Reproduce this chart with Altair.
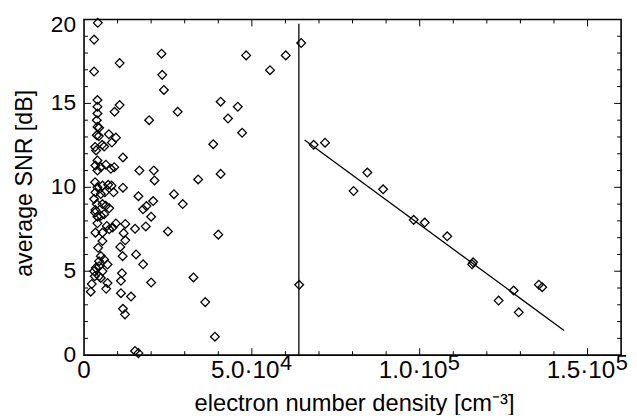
import altair as alt
import pandas as pd

# ---- data (electron number density in units of 1e4 cm^-3, average SNR in dB) ----
dens_e4 = [
    0.41, 0.30, 0.30, 0.40, 0.40, 0.40, 0.38, 0.40, 0.45, 0.38, 0.44, 0.33, 0.36, 0.40,
    0.34, 0.40, 0.33, 0.40, 0.34, 0.30, 0.38, 0.34, 0.40, 0.33, 0.40, 0.34, 0.32, 0.23,
    0.20, 0.35, 0.30,
    0.54, 0.60, 0.83, 0.74, 0.95, 0.91, 1.06, 1.06, 1.16, 0.50, 0.65, 0.80, 0.90, 0.55,
    0.72, 0.82, 0.88, 0.50, 0.62, 0.55, 0.65, 0.75, 0.50, 0.60, 0.68, 0.75, 0.85, 0.95,
    0.55, 0.55, 0.42, 0.50, 0.45, 0.60, 0.70, 0.45, 0.55, 0.45, 0.70, 0.66, 0.50,
    1.16, 1.62, 2.68, 2.06, 1.86, 1.76, 2.00, 1.23, 1.52, 1.84, 2.50, 1.18, 1.23, 1.08,
    1.15, 1.55, 1.76, 1.13, 1.10, 2.00, 1.10, 1.40, 1.16, 1.22, 1.52, 1.62, 1.65, 2.08,
    2.10, 2.31, 2.33, 2.38, 2.79, 1.94, 2.94,
    4.83, 5.54, 6.01, 6.47, 4.07, 4.58, 4.29, 4.71, 3.85, 3.40, 4.07, 4.00, 3.26, 3.61,
    3.90, 6.41,
    6.84, 7.18, 8.03, 8.44, 8.91, 9.82, 10.15, 10.82, 11.56, 11.59, 12.35, 12.8, 12.95,
    13.55, 13.65,
]
snr_db = [
    19.8, 18.8, 16.9, 15.2, 14.8, 14.4, 14.0, 13.6, 13.55, 13.1, 13.05, 12.4, 12.2, 11.6,
    11.3, 11.0, 10.3, 10.0, 9.7, 9.3, 9.0, 8.65, 8.25, 8.5, 7.86, 7.3, 4.7, 4.24,
    3.78, 5.2, 5.0,
    12.53, 12.43, 12.67, 13.16, 12.96, 14.5, 14.9, 17.4, 11.78, 11.2, 11.35, 11.1, 11.2, 10.1,
    10.15, 10.1, 9.7, 9.6, 9.7, 9.0, 8.9, 8.75, 8.3, 8.4, 7.7, 7.5, 7.6, 7.85,
    7.3, 6.8, 6.4, 5.9, 5.6, 5.7, 5.4, 5.3, 5.0, 4.7, 4.3, 3.95, 4.6,
    9.98, 9.47, 9.59, 9.18, 8.88, 8.69, 8.25, 7.82, 7.53, 7.67, 7.37, 7.27, 6.84, 6.45,
    5.9, 6.0, 5.41, 4.88, 4.43, 4.33, 3.69, 3.49, 2.76, 2.43, 0.25, 0.12, 11.0, 11.0,
    10.41, 17.96, 16.7, 15.8, 14.5, 14.0, 9.0,
    17.86, 16.98, 17.86, 18.6, 15.1, 14.8, 14.1, 13.25, 12.57, 10.47, 10.8, 7.18, 4.63, 3.16,
    1.1, 4.19,
    12.53, 12.66, 9.78, 10.88, 9.88, 8.06, 7.90, 7.08, 5.41, 5.53, 3.25, 3.85, 2.55,
    4.2, 4.05,
]

vline_x = [64000, 64000]
vline_y = [0.0, 19.75]
fit_x = [65700, 143000]
fit_y = [12.82, 1.47]

x_ticks_minor = [10000, 20000, 30000, 40000, 60000, 70000, 80000, 90000,
                 110000, 120000, 130000, 140000]
x_ticks_major = [50000, 100000, 150000]
y_ticks_minor = [1, 2, 3, 4, 6, 7, 8, 9, 11, 12, 13, 14, 16, 17, 18, 19]
y_ticks_major = [5, 10, 15]

x_label_vals = [50000, 100000, 150000]
x_label_main = ["5.0·10", "1.0·10", "1.5·10"]
x_label_sup = ["4", "5", "5"]
y_label_vals = [0, 5, 10, 15]
y_label_text = ["0", "5", "10", "15"]
y_label_top_val = [20]
y_label_top_text = ["20"]
x_title = "electron number density [cm⁻³]"
y_title = "average SNR [dB]"

# ---- chart ----
W, H = 544, 340
FONT = "Liberation Sans"

df = pd.DataFrame({"dens": [v * 1e4 for v in dens_e4], "snr": snr_db})
xs = alt.Scale(domain=[0, 160000], nice=False, zero=False)
ys = alt.Scale(domain=[0, 20], nice=False, zero=False)


def X(field):
    return alt.X(field, type="quantitative", scale=xs, axis=None)


def Y(field):
    return alt.Y(field, type="quantitative", scale=ys, axis=None)


points = alt.Chart(df).mark_point(
    shape="diamond", filled=False, size=78, stroke="black", strokeWidth=1.3, opacity=1
).encode(x=X("dens"), y=Y("snr"))

vline = alt.Chart(pd.DataFrame({"x": vline_x, "y": vline_y})).mark_line(
    color="black", strokeWidth=1.3
).encode(x=X("x"), y=Y("y"))

fit = alt.Chart(pd.DataFrame({"x": fit_x, "y": fit_y})).mark_line(
    color="black", strokeWidth=1.3
).encode(x=X("x"), y=Y("y"))


def xticks(vals, length):
    d = pd.DataFrame({"v": vals})
    base = alt.Chart(d).mark_rule(color="black", strokeWidth=1)
    b = base.encode(x=X("v"), y=alt.value(H), y2=alt.value(H - length))
    t = base.encode(x=X("v"), y=alt.value(0), y2=alt.value(length))
    return [b, t]


def yticks(vals, length):
    d = pd.DataFrame({"v": vals})
    base = alt.Chart(d).mark_rule(color="black", strokeWidth=1)
    l = base.encode(y=Y("v"), x=alt.value(0), x2=alt.value(length))
    r = base.encode(y=Y("v"), x=alt.value(W), x2=alt.value(W - length))
    return [l, r]


tick_layers = xticks(x_ticks_minor, 4) + xticks(x_ticks_major, 7) + \
    yticks(y_ticks_minor, 4) + yticks(y_ticks_major, 7)

lab_df = pd.DataFrame({"v": x_label_vals, "main": x_label_main, "sup": x_label_sup})
lab_main = alt.Chart(lab_df).mark_text(
    font=FONT, fontSize=24.5, color="black", align="right", baseline="alphabetic", dx=28
).encode(x=X("v"), y=alt.value(H + 23), text="main:N")
lab_sup = alt.Chart(lab_df).mark_text(
    font=FONT, fontSize=22, color="black", align="left", baseline="alphabetic", dx=28.5
).encode(x=X("v"), y=alt.value(H + 15), text="sup:N")
lab_zero = alt.Chart(pd.DataFrame({"v": [0], "t": ["0"]})).mark_text(
    font=FONT, fontSize=24.5, color="black", align="center", baseline="alphabetic"
).encode(x=X("v"), y=alt.value(H + 23), text="t:N")

ylab = alt.Chart(pd.DataFrame({"v": y_label_vals, "t": y_label_text})).mark_text(
    font=FONT, fontSize=23, color="black", align="right", baseline="middle"
).encode(y=Y("v"), x=alt.value(-8), text="t:N")
ylab_top = alt.Chart(pd.DataFrame({"v": y_label_top_val, "t": y_label_top_text})).mark_text(
    font=FONT, fontSize=23, color="black", align="right", baseline="middle", dy=6
).encode(y=Y("v"), x=alt.value(-8), text="t:N")

xt = alt.Chart(pd.DataFrame({"t": [x_title]})).mark_text(
    font=FONT, fontSize=24, color="black", align="center", baseline="middle"
).encode(x=alt.value(W / 2 + 2), y=alt.value(H + 50), text="t:N")

yt = alt.Chart(pd.DataFrame({"t": [y_title]})).mark_text(
    font=FONT, fontSize=23.5, color="black", align="center", baseline="middle", angle=270
).encode(x=alt.value(-60), y=alt.value(166), text="t:N")

chart = alt.layer(
    points, vline, fit, *tick_layers, lab_main, lab_sup, lab_zero, ylab, ylab_top, xt, yt
).properties(
    width=W, height=H,
    autosize=alt.AutoSizeParams(type="none"),
    padding={"left": 77, "top": 9, "right": 8, "bottom": 58},
    background="white",
).configure_view(stroke="black", strokeWidth=1.6)

chart.save("out.html", embed_options={"renderer": "svg", "actions": False})
